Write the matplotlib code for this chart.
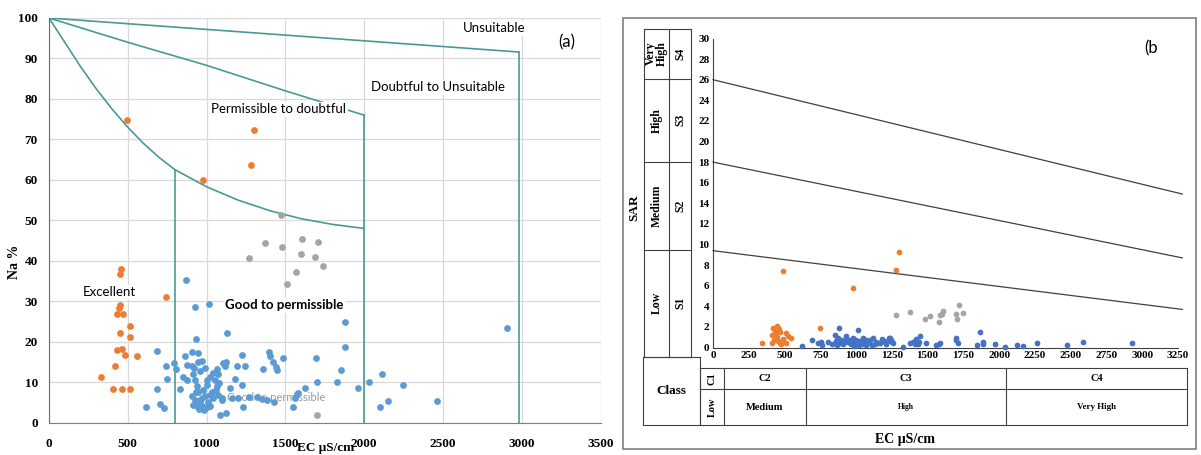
import matplotlib.pyplot as plt
import matplotlib.patches as mpatches

# ---------------- data (a) Wilcox diagram: EC vs Na% ----------------
orange_ec_a = [495, 976, 1300, 1283, 743, 455, 450, 451, 446, 434, 472, 515, 451, 515,
               430, 462, 483, 557, 419, 329, 405, 466, 515]
orange_na_a = [74.7, 59.9, 72.3, 63.7, 31.0, 37.9, 36.8, 29.1, 28.3, 26.8, 26.8, 23.8, 22.1, 21.2,
               18.0, 18.3, 16.8, 16.6, 14.1, 11.3, 8.3, 8.3, 8.3]
gray_ec_a = [1471, 1369, 1477, 1604, 1709, 1272, 1598, 1690, 1741, 1568, 1511, 1699]
gray_na_a = [51.2, 44.4, 43.5, 45.4, 44.6, 40.7, 41.7, 40.9, 38.8, 37.2, 34.2, 2.0]
blue_ec_a = [616, 684, 741, 747, 688, 705, 732, 794, 804,
             870, 927, 1016, 1128, 931, 906, 944, 863, 1223, 1399, 1403, 1487, 1693,
             874, 906, 948, 969, 921, 1124, 1103, 1117, 1191, 1244, 1356, 1424, 1441, 1445,
             1064, 1039, 1022, 1075, 1005, 1054, 853, 874, 927, 916, 1181,
             832, 938, 948, 1081, 1069, 1223, 1033, 1075, 1022,
             906, 927, 969, 959, 990, 938, 969, 1001, 916, 1022, 1043, 1096,
             1086, 1122, 1234, 1160, 1318, 1382, 1551, 1572, 1625,
             1877, 1877, 1853, 1699, 1830, 1959, 2033, 2113, 2249, 2099, 2154, 1583, 1561,
             2460, 2909,
             950, 985, 960, 1010, 935, 980, 1000, 960, 990, 1060, 1100, 1150, 1200, 1270, 1350, 1430]
blue_na_a = [4.0, 17.8, 13.9, 10.9, 8.3, 4.7, 3.6, 14.7, 13.3,
             35.3, 28.6, 29.3, 22.1, 20.7, 17.4, 17.2, 16.4, 16.8, 17.4, 16.4, 16.0, 16.1,
             14.3, 13.9, 15.0, 15.3, 13.5, 15.1, 14.7, 13.9, 14.1, 14.1, 13.2, 14.9, 13.7, 12.9,
             13.2, 12.4, 11.4, 12.0, 10.6, 10.6, 11.4, 10.6, 10.6, 12.0, 10.9,
             8.3, 9.0, 7.7, 9.8, 9.0, 9.4, 7.7, 6.9, 6.9,
             6.7, 5.7, 6.1, 4.8, 6.5, 4.2, 4.2, 4.0, 4.4, 4.2, 6.1, 6.1,
             2.0, 2.5, 4.0, 6.1, 6.3, 5.5, 4.0, 7.1, 8.6,
             24.9, 18.8, 13.1, 10.0, 10.0, 8.6, 10.0, 12.1, 9.4, 4.0, 5.3, 7.3, 6.2,
             5.3, 23.4,
             3.5, 3.2, 5.5, 5.2, 7.5, 8.0, 9.3, 12.8, 13.6, 8.2, 5.5, 8.5, 6.0, 6.4, 5.8, 5.0]

# class boundary lines of the Wilcox diagram
top_x = [0, 2980]
top_y = [100, 91.6]
mid_x = [0, 500, 1000, 1500, 2000]
mid_y = [100, 94, 88.3, 82, 76]
low_x = [0, 100, 200, 300, 400, 500, 600, 700, 800, 1000, 1200, 1400, 1600, 1800, 2000]
low_y = [100, 94, 88, 82.5, 77.5, 73, 69, 65.5, 62.5, 58.3, 55, 52.4, 50.4, 49, 48]
vert_x = [800, 2000, 2980]
vert_top = [62.5, 76, 91.6]

# ---------------- data (b) USSL diagram: EC vs SAR ----------------
orange_ec_b = [490, 975, 1300, 1280, 747, 445, 433, 468, 410, 450, 513, 340, 410, 468,
               513, 548, 425, 455, 490, 525, 430, 460, 475, 420]
orange_sar_b = [7.4, 5.8, 9.3, 7.5, 1.9, 2.09, 1.63, 1.53, 1.21, 1.05, 1.38, 0.4, 0.4, 0.4,
                0.4, 0.9, 0.75, 0.6, 0.8, 1.1, 1.35, 1.8, 0.3, 1.9]
gray_ec_b = [1277, 1377, 1481, 1517, 1582, 1586, 1609, 1698, 1707, 1719, 1749, 1600]
gray_sar_b = [3.16, 3.48, 2.74, 3.06, 2.45, 3.16, 3.57, 3.25, 2.77, 4.13, 3.32, 3.3]
blue_ec_b = [624, 689, 735, 758, 765, 804, 878, 850, 873, 897, 932, 955, 978, 1013, 908, 943,
             978, 1025, 1071, 1118, 1141, 1199, 1223, 1246, 1327,
             860, 890, 920, 965, 990, 1000, 1040, 1055, 1090, 1100, 1130, 1160, 1210, 1260,
             835, 1050, 930, 1070, 985, 1110, 1020, 870, 1180, 1240,
             1167, 1195, 1232, 1248, 1399, 1411, 1446, 1441, 1492, 1557, 1585, 1698, 1709,
             1843, 1867, 1890, 1890, 1970, 2040, 2122, 2164, 2262, 2476, 2583, 2930,
             1420, 1380, 1430, 1580, 1700]
blue_sar_b = [0.18, 0.73, 0.4, 0.56, 0.24, 0.56, 1.91, 1.17, 0.94, 0.73, 1.07, 0.76, 0.94, 1.71, 0.3, 0.5,
              0.35, 0.6, 0.75, 0.9, 0.55, 0.56, 0.6, 0.73, 0.02,
              0.6, 0.4, 0.55, 0.3, 0.5, 0.75, 0.35, 0.5, 0.4, 0.7, 0.3, 0.45, 0.3, 0.4,
              0.3, 0.9, 0.9, 0.25, 0.15, 0.2, 0.25, 0.2, 0.8, 0.95,
              0.4, 0.66, 0.89, 0.56, 0.56, 0.33, 1.1, 0.56, 0.4, 0.24, 0.4, 0.73, 0.4,
              0.24, 1.46, 0.56, 0.33, 0.33, 0.05, 0.24, 0.18, 0.4, 0.24, 0.56, 0.4,
              0.8, 0.4, 0.3, 0.3, 0.9]

# SAR class separation lines
sar_x = [0, 3280]
s4_line = [26, 14.9]
s3_line = [18, 8.7]
s2_line = [9.4, 3.7]

ORANGE = '#ED7D31'
BLUE_A = '#5B9BD5'
BLUE_B = '#4472C4'
GRAY = '#A5A5A5'
TEAL = '#4A9996'
SERIF = 'Liberation Serif'
SANS = 'Lato'

W, H = 1201, 455
fig = plt.figure(figsize=(W / 100, H / 100), dpi=100)

# overlay in pixel coords for the table / frame of panel (b)
ov = fig.add_axes([0, 0, 1, 1])
ov.set_xlim(0, W)
ov.set_ylim(H, 0)
ov.axis('off')


def px(l, t, r, b):
    return [l / W, 1 - b / H, (r - l) / W, (b - t) / H]


# ---------------- panel (a) ----------------
ax = fig.add_axes(px(49, 18, 600.5, 422.7))
ax.set_xlim(0, 3500)
ax.set_ylim(0, 100)
ax.set_xticks(range(0, 3501, 500))
ax.set_yticks(range(0, 101, 10))
ax.grid(True, color='#d9d9d9', lw=0.9)
ax.set_axisbelow(True)
for s in ['top', 'right']:
    ax.spines[s].set_visible(False)
ax.spines['left'].set_color('#5f6f6f')
ax.spines['bottom'].set_color('#7f7f7f')
ax.tick_params(length=0, labelsize=9.5)
ax.tick_params(axis='x', pad=11)
ax.tick_params(axis='y', pad=8)
for lab in ax.get_xticklabels() + ax.get_yticklabels():
    lab.set_fontfamily(SERIF)
    lab.set_fontweight('bold')

ax.plot(top_x, top_y, color=TEAL, lw=1.2)
ax.plot(mid_x, mid_y, color=TEAL, lw=1.2)
ax.plot(low_x, low_y, color=TEAL, lw=1.2)
for vx, vt in zip(vert_x, vert_top):
    ax.plot([vx, vx], [0, vt], color=TEAL, lw=1.2)

ax.text(1440, 6.3, 'Good to permissible', fontsize=8, color='#999999', family=SANS,
        ha='center', va='center', zorder=1)
ax.scatter(blue_ec_a, blue_na_a, s=24, color=BLUE_A, zorder=3, lw=0)
ax.scatter(orange_ec_a, orange_na_a, s=24, color=ORANGE, zorder=3, lw=0)
ax.scatter(gray_ec_a, gray_na_a, s=24, color=GRAY, zorder=3, lw=0)

box = dict(facecolor='white', edgecolor='none', pad=1)
ax.text(2824, 97.5, 'Unsuitable', fontsize=9.5, family=SANS, ha='center', va='center', bbox=box)
ax.text(3288, 94, '(a)', fontsize=12, family=SANS, ha='center', va='center', bbox=box)
ax.text(2471, 82.9, 'Doubtful to Unsuitable', fontsize=9.5, family=SANS, ha='center', va='center', bbox=box)
ax.text(1459, 77.5, 'Permissible to doubtful', fontsize=9.5, family=SANS, ha='center', va='center',
        bbox=box, zorder=4)
ax.text(385, 32.3, 'Excellent', fontsize=9.5, family=SANS, ha='center', va='center', bbox=box)
ax.text(1495, 29.0, 'Good to permissible', fontsize=9.5, family=SANS, fontweight='bold',
        ha='center', va='center', bbox=box)

ov.text(15, 262, 'Na %', rotation=90, fontsize=10, family=SERIF, fontweight='bold',
        ha='center', va='center')
ov.text(326, 454.5, 'EC μS/cm', fontsize=9.5, family=SERIF, fontweight='bold', ha='center', va='bottom')

# ---------------- panel (b) ----------------
bx = fig.add_axes(px(713, 38.5, 1178, 347.5))
bx.set_xlim(0, 3250)
bx.set_ylim(0, 30)
bx.set_xticks(range(0, 3251, 250))
bx.set_yticks(range(0, 31, 2))
bx.patch.set_alpha(0)
for s in ['top', 'right']:
    bx.spines[s].set_visible(False)
bx.spines['left'].set_color('#404040')
bx.spines['bottom'].set_color('#404040')
bx.tick_params(length=0, labelsize=8, pad=2.5)
for lab in bx.get_xticklabels() + bx.get_yticklabels():
    lab.set_fontfamily(SERIF)
    lab.set_fontweight('bold')

for line in [s4_line, s3_line, s2_line]:
    bx.plot(sar_x, line, color='#404040', lw=0.9, clip_on=False)
bx.scatter(blue_ec_b, blue_sar_b, s=17, color=BLUE_B, zorder=3, lw=0, clip_on=False)
bx.scatter(orange_ec_b, orange_sar_b, s=17, color=ORANGE, zorder=3, lw=0, clip_on=False)
bx.scatter(gray_ec_b, gray_sar_b, s=17, color=GRAY, zorder=3, lw=0, clip_on=False)

# frame and class tables
lc = '#404040'
ov.add_patch(mpatches.Rectangle((623, 17.5), 573, 431.5, fill=False, ec='#808080', lw=1.2))
rows = [28.5, 78.5, 162, 249.5, 356.7]
for xv in [644, 669, 691]:
    ov.plot([xv, xv], [rows[0], rows[-1]], color=lc, lw=0.8)
for yv in rows:
    ov.plot([644, 691], [yv, yv], color=lc, lw=0.8)
sar_cls = ['Very\nHigh', 'High', 'Medium', 'Low']
sar_s = ['S4', 'S3', 'S2', 'S1']
for i in range(4):
    yc = (rows[i] + rows[i + 1]) / 2
    ov.text(656.5, yc, sar_cls[i], rotation=90, fontsize=8.5, family=SERIF, fontweight='bold',
            ha='center', va='center', linespacing=0.9)
    ov.text(680, yc, sar_s[i], rotation=90, fontsize=8.5, family=SERIF, fontweight='bold',
            ha='center', va='center')
ov.text(634, 208, 'SAR', rotation=90, fontsize=9.5, family=SERIF, fontweight='bold',
        ha='center', va='center')

ov.plot([643, 643, 700, 700], [356.7, 425, 425, 356.7], color=lc, lw=0.8)
ov.plot([643, 700], [356.7, 356.7], color=lc, lw=0.8)
ov.text(671.5, 391, 'Class', fontsize=9.5, family=SERIF, fontweight='bold', ha='center', va='center')
cols = [700, 724, 805.6, 1006.3, 1187]
for xv in cols:
    ov.plot([xv, xv], [368.3, 425], color=lc, lw=0.8)
for yv in [368.3, 389, 425]:
    ov.plot([700, 1187], [yv, yv], color=lc, lw=0.8)
ov.text(712, 378.6, 'C1', rotation=90, fontsize=7.5, family=SERIF, fontweight='bold', ha='center', va='center')
ov.text(712, 407, 'Low', rotation=90, fontsize=7.5, family=SERIF, fontweight='bold', ha='center', va='center')
c_top = ['C2', 'C3', 'C4']
c_bot = ['Medium', 'High', 'Very High']
c_size = [7.5, 5.5, 6.5]
for i in range(3):
    xc = (cols[i + 1] + cols[i + 2]) / 2
    ov.text(xc, 378.6, c_top[i], fontsize=7.5, family=SERIF, fontweight='bold', ha='center', va='center')
    ov.text(xc, 407, c_bot[i], fontsize=c_size[i], family=SERIF, fontweight='bold', ha='center', va='center')
ov.text(905, 440, 'EC μS/cm', fontsize=10, family=SERIF, fontweight='bold', ha='center', va='center')
ov.text(1151, 48, '(b', fontsize=12, family=SANS, ha='center', va='center')

fig.savefig('out.png', dpi=100)
